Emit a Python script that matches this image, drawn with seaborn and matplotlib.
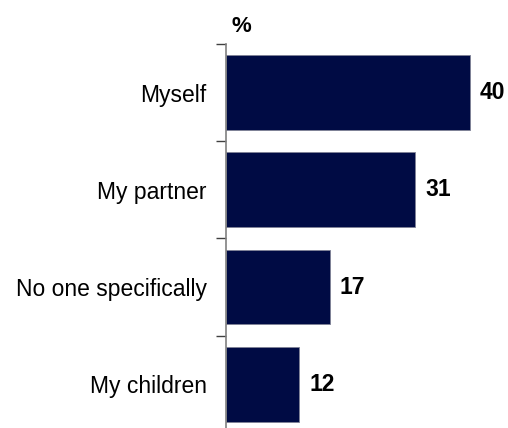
import matplotlib
matplotlib.use('Agg')
import matplotlib.pyplot as plt
import seaborn as sns
import pandas as pd
from matplotlib.ticker import FixedLocator

categories = ['Myself', 'My partner', 'No one specifically', 'My children']
values = [40, 31, 17, 12]

df = pd.DataFrame({'who': categories, 'pct': values})

sns.set_style('white')
plt.rcParams['font.family'] = ['Liberation Sans', 'DejaVu Sans']
plt.rcParams['text.color'] = 'black'
plt.rcParams['ytick.color'] = 'black'

fig = plt.figure(figsize=(5.08, 4.28), dpi=100)
ax = fig.add_axes([226 / 508, 0.0, 281 / 508, 384 / 428])

sns.barplot(data=df, x='pct', y='who', orient='h', color='#000B44',
            width=0.77, edgecolor='#7f8296', linewidth=0.6, saturation=1, ax=ax)

ax.set_xlim(0, 46)
ax.set_ylim(3.45, -0.5)

# value labels
for i, v in enumerate(values):
    ax.text(v + 1.6, i, str(v), va='center', ha='left', fontsize=16.5,
            fontweight='bold', color='black')

# category labels without ticks, boundary ticks as minor
ax.set_yticks(range(len(categories)))
ax.set_yticklabels(categories, fontsize=16.5, color='black')
ax.tick_params(axis='y', which='major', length=0, pad=14)
ax.yaxis.set_minor_locator(FixedLocator([-0.5, 0.5, 1.5, 2.5]))
ax.tick_params(axis='y', which='minor', length=7, width=1, color='#404040', left=True)

ax.set_xlabel('')
ax.set_ylabel('')
ax.set_xticks([])
for s in ['top', 'right', 'bottom']:
    ax.spines[s].set_visible(False)
ax.spines['left'].set_color('#808080')
ax.spines['left'].set_linewidth(1.2)

fig.text(241 / 508, 1 - 26 / 428, '%', ha='center', va='center', fontsize=16,
         fontweight='bold', color='black')

fig.savefig('out.png', dpi=100)
